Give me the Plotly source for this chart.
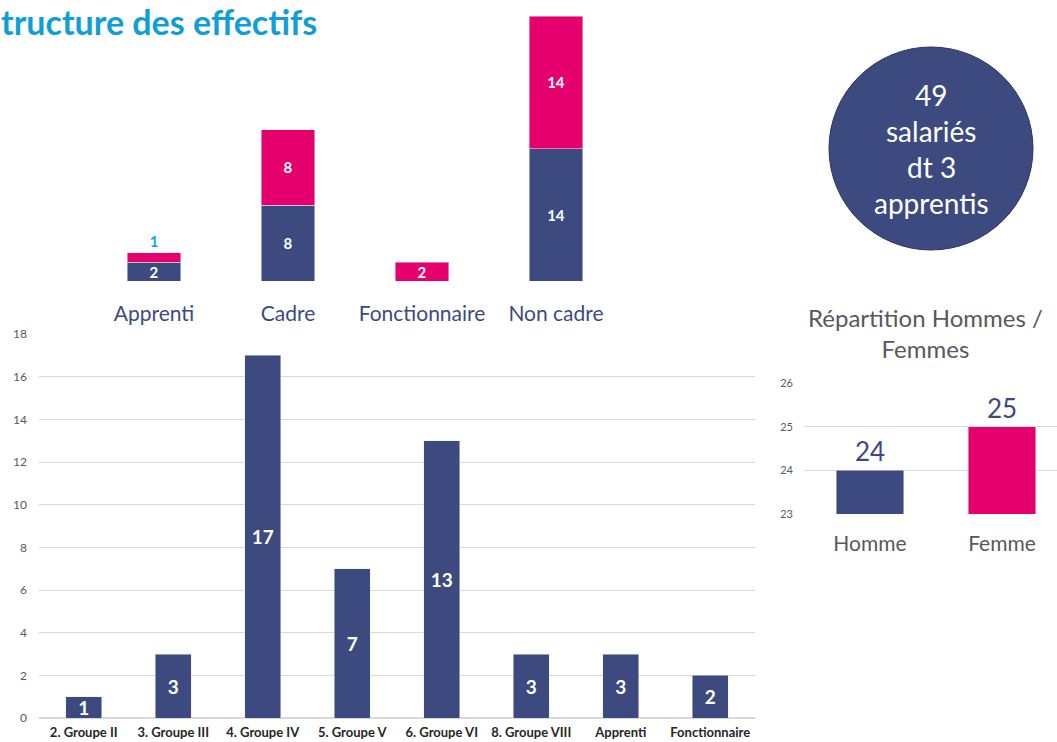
import plotly.graph_objects as go

# -----------------------------
# DATA
# -----------------------------
statuts = ["Apprenti", "Cadre", "Fonctionnaire", "Non cadre"]
statut_hommes = [2, 8, 0, 14]
statut_femmes = [1, 8, 2, 14]

groupes = ["2. Groupe II", "3. Groupe III", "4. Groupe IV", "5. Groupe V",
           "6. Groupe VI", "8. Groupe VIII", "Apprenti", "Fonctionnaire"]
groupe_effectifs = [1, 3, 17, 7, 13, 3, 3, 2]

sexes = ["Homme", "Femme"]
sexe_effectifs = [24, 25]

total_salaries = 49
total_apprentis = 3

BLUE = "#3c4a80"
PINK = "#e5006e"
CYAN = "#0f9ed6"
GREY = "#595959"
FONT = "Lato"

W, H = 1057, 742


def px_x(x):
    return x / W


def px_y(y):
    return 1 - y / H


fig = go.Figure()

# -----------------------------
# TOP: stacked bars by status
# -----------------------------
fig.add_trace(go.Bar(
    x=statuts, y=statut_hommes,
    marker_color=BLUE, width=0.4,
    text=[str(v) if v else "" for v in statut_hommes],
    textposition="inside", insidetextanchor="middle",
    textfont=dict(color="white", size=15, family=FONT, weight="bold"),
    constraintext="none", textangle=0,
    xaxis="x", yaxis="y",
))
fig.add_trace(go.Bar(
    x=statuts, y=statut_femmes,
    marker_color=PINK, width=0.4,
    text=[str(v) for v in statut_femmes],
    textposition=["outside", "inside", "inside", "inside"],
    insidetextanchor="middle",
    insidetextfont=dict(color="white", size=15, family=FONT, weight="bold"),
    outsidetextfont=dict(color="#1ba3dc", size=15, family=FONT, weight="bold"),
    constraintext="none", textangle=0, cliponaxis=False,
    xaxis="x", yaxis="y",
))

# -----------------------------
# BOTTOM: by group
# -----------------------------
fig.add_trace(go.Bar(
    x=groupes, y=groupe_effectifs,
    marker_color=BLUE, width=0.4,
    text=[str(v) for v in groupe_effectifs],
    textposition="inside", insidetextanchor="middle",
    textfont=dict(color="white", size=19, family=FONT, weight="bold"),
    constraintext="none", textangle=0,
    xaxis="x2", yaxis="y2",
))

# -----------------------------
# RIGHT: hommes / femmes
# -----------------------------
fig.add_trace(go.Bar(
    x=sexes, y=sexe_effectifs,
    marker_color=[BLUE, PINK], width=0.51,
    text=[str(v) for v in sexe_effectifs],
    textposition="outside",
    textfont=dict(color=BLUE, size=26, family=FONT),
    cliponaxis=False, constraintext="none",
    xaxis="x3", yaxis="y3",
))

fig.update_layout(
    width=W, height=H,
    margin=dict(l=0, r=0, t=0, b=0, autoexpand=False),
    paper_bgcolor="white", plot_bgcolor="white",
    showlegend=False, barmode="stack",
    font=dict(family=FONT, color=GREY),
    xaxis=dict(domain=[px_x(87), px_x(623)], showgrid=False, zeroline=False,
               showline=False, ticks="", automargin=False, ticklabelstandoff=18,
               tickfont=dict(size=21, color=BLUE)),
    yaxis=dict(domain=[px_y(281), px_y(16)], range=[0, 28], visible=False,
               automargin=False),
    xaxis2=dict(domain=[px_x(39), px_x(755)], showgrid=False, zeroline=False,
                showline=False, ticks="", anchor="y2", automargin=False,
                ticklabelstandoff=5,
                tickfont=dict(size=13, color="#262626", weight="bold")),
    yaxis2=dict(domain=[px_y(718), px_y(334)], range=[0, 18], dtick=2,
                anchor="x2", showgrid=True, gridcolor="#d9d9d9",
                zeroline=True, zerolinecolor="#d9d9d9", automargin=False,
                ticklabelstandoff=11,
                tickfont=dict(size=12, color=GREY)),
    xaxis3=dict(domain=[px_x(804), 1], range=[-0.5, 1.417], showgrid=False,
                zeroline=False, showline=False, ticks="", anchor="y3",
                automargin=False, ticklabelstandoff=15,
                tickfont=dict(size=21, color=GREY)),
    yaxis3=dict(domain=[px_y(514), px_y(383)], range=[23, 26], dtick=1,
                anchor="x3", showgrid=True, gridcolor="#d9d9d9",
                zeroline=False, automargin=False, ticklabelstandoff=10,
                tickfont=dict(size=11, color=GREY)),
)

# title (cropped "Structure" in the original slide)
fig.add_annotation(
    text="<b>tructure des effectifs</b>", x=0, y=px_y(22),
    xref="paper", yref="paper", xanchor="left", yanchor="middle",
    showarrow=False, borderpad=0,
    font=dict(size=34, color=CYAN, family=FONT),
)

# circle with totals
fig.add_shape(
    type="circle", xref="paper", yref="paper",
    x0=px_x(829), x1=px_x(1033), y0=px_y(250), y1=px_y(47),
    fillcolor=BLUE, line=dict(color="#2a3560", width=1),
)
circle_lines = [str(total_salaries), "salariés", f"dt {total_apprentis}", "apprentis"]
for i, line in enumerate(circle_lines):
    fig.add_annotation(
        text=line, x=px_x(931), y=px_y(95 + 36 * i),
        xref="paper", yref="paper", xanchor="center", yanchor="middle",
        showarrow=False, font=dict(size=28, color="white", family=FONT),
    )

# right chart title
fig.add_annotation(
    text="Répartition Hommes /<br>Femmes", x=px_x(925), y=px_y(333),
    xref="paper", yref="paper", xanchor="center", yanchor="middle",
    showarrow=False, font=dict(size=24, color=GREY, family=FONT),
)

# page has a default body margin: remove it so the figure sits at 0,0
fig.write_html("out.html", config={"displayModeBar": False},
               post_script="document.body.style.margin='0';")
